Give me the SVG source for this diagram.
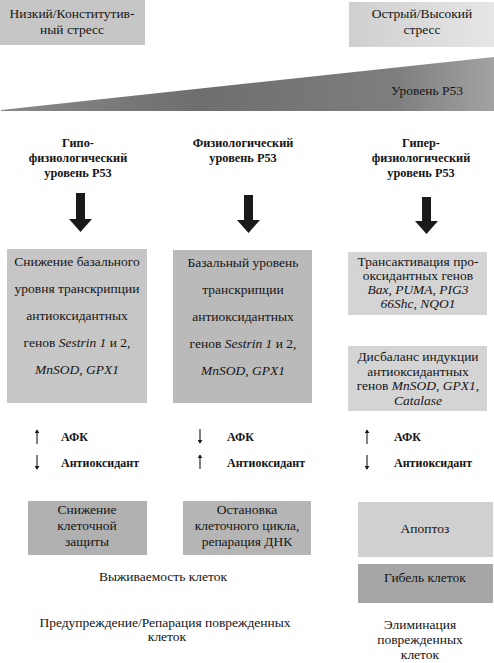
<svg xmlns="http://www.w3.org/2000/svg" width="494" height="663" viewBox="0 0 494 663">
<style>
  .t { font-size: 13.5px; text-anchor: middle; fill: #151515; }
  .h { font-size: 12.3px; font-weight: bold; text-anchor: middle; fill: #151515; }
  .b { font-size: 12px; font-weight: bold; fill: #151515; }
  .i { font-style: italic; }
  .big { fill: #1a1a1a; }
  .thin { stroke: #1a1a1a; stroke-width: 1.1; fill: none; marker-end: url(#ah); }
</style>
<defs>
  <marker id="ah" viewBox="0 0 6 8" refX="5" refY="4" markerWidth="4" markerHeight="5" orient="auto" markerUnits="userSpaceOnUse">
    <path d="M0,0 L6,4 L0,8 z" fill="#1a1a1a"/>
  </marker>
  <linearGradient id="wedge" x1="0" y1="0" x2="1" y2="0">
    <stop offset="0" stop-color="#8a8a8a"/>
    <stop offset="0.4" stop-color="#6e6e6e"/>
    <stop offset="0.8" stop-color="#7e7e7e"/>
    <stop offset="1" stop-color="#a2a2a2"/>
  </linearGradient>
  <linearGradient id="trg" x1="0" y1="0" x2="1" y2="0">
    <stop offset="0" stop-color="#cfcfcf"/>
    <stop offset="1" stop-color="#e6e6e6"/>
  </linearGradient>
</defs>
<rect width="494" height="663" fill="#ffffff"/>

<g id="stress-low">
  <rect x="0" y="0" width="145" height="45" fill="#c6c6c6"/>
  <text class="t" x="72" y="18" font-family="Liberation Serif">Низкий/Конститутив-</text>
  <text class="t" x="72" y="34" font-family="Liberation Serif">ный стресс</text>
</g>
<g id="stress-high">
  <rect x="349" y="2" width="145" height="45" fill="url(#trg)"/>
  <text class="t" x="422" y="18" font-family="Liberation Serif">Острый/Высокий</text>
  <text class="t" x="422" y="34" font-family="Liberation Serif">стресс</text>
</g>
<g id="p53-wedge">
  <polygon points="1,110 494,57 494,111 1,111" fill="url(#wedge)"/>
  <text class="t" x="427" y="95" font-family="Liberation Serif">Уровень P53</text>
</g>

<g id="head-hypo">
  <text class="h" x="78" y="147" font-family="Liberation Serif">Гипо-</text>
  <text class="h" x="78" y="162" font-family="Liberation Serif">физиологический</text>
  <text class="h" x="78" y="177" font-family="Liberation Serif">уровень P53</text>
</g>
<g id="head-phys">
  <text class="h" x="243" y="147" font-family="Liberation Serif">Физиологический</text>
  <text class="h" x="243" y="162" font-family="Liberation Serif">уровень P53</text>
</g>
<g id="head-hyper">
  <text class="h" x="421" y="147" font-family="Liberation Serif">Гипер-</text>
  <text class="h" x="421" y="162" font-family="Liberation Serif">физиологический</text>
  <text class="h" x="421" y="177" font-family="Liberation Serif">уровень P53</text>
</g>

<g id="box-hypo">
  <rect x="7" y="249" width="140" height="154" fill="#c6c6c6"/>
  <text class="t" x="77" y="266" font-family="Liberation Serif">Снижение базального</text>
  <text class="t" x="77" y="293" font-family="Liberation Serif">уровня транскрипции</text>
  <text class="t" x="77" y="320" font-family="Liberation Serif">антиоксидантных</text>
  <text class="t" x="77" y="347" font-family="Liberation Serif">генов <tspan class="i">Sestrin 1</tspan> и 2,</text>
  <text class="t i" x="77" y="374" font-family="Liberation Serif">MnSOD, GPX1</text>
</g>
<g id="box-phys">
  <rect x="173" y="250" width="139" height="153" fill="#bababa"/>
  <text class="t" x="243" y="267" font-family="Liberation Serif">Базальный уровень</text>
  <text class="t" x="243" y="294" font-family="Liberation Serif">транскрипции</text>
  <text class="t" x="243" y="321" font-family="Liberation Serif">антиоксидантных</text>
  <text class="t" x="243" y="348" font-family="Liberation Serif">генов <tspan class="i">Sestrin 1</tspan> и 2,</text>
  <text class="t i" x="243" y="375" font-family="Liberation Serif">MnSOD, GPX1</text>
</g>
<g id="box-hyper-1">
  <rect x="348" y="252" width="139" height="63" fill="#d4d4d4"/>
  <text class="t" x="418" y="266" font-family="Liberation Serif">Трансактивация про-</text>
  <text class="t" x="418" y="280" font-family="Liberation Serif">оксидантных генов</text>
  <text class="t i" x="418" y="294" font-family="Liberation Serif">Bax, PUMA, PIG3</text>
  <text class="t i" x="418" y="308" font-family="Liberation Serif">66Shc, NQO1</text>
</g>
<g id="box-hyper-2">
  <rect x="348" y="346" width="139" height="65" fill="#d4d4d4"/>
  <text class="t" x="418" y="361" font-family="Liberation Serif">Дисбаланс индукции</text>
  <text class="t" x="418" y="376" font-family="Liberation Serif">антиоксидантных</text>
  <text class="t" x="418" y="390" font-family="Liberation Serif">генов <tspan class="i">MnSOD, GPX1</tspan>,</text>
  <text class="t i" x="418" y="405" font-family="Liberation Serif">Catalase</text>
</g>

<g id="ros-hypo">
  <text class="b" x="61" y="441" font-family="Liberation Serif">АФК</text>
  <text class="b" x="61" y="467" font-family="Liberation Serif">Антиоксидант</text>
</g>
<g id="ros-phys">
  <text class="b" x="227" y="441" font-family="Liberation Serif">АФК</text>
  <text class="b" x="227" y="467" font-family="Liberation Serif">Антиоксидант</text>
</g>
<g id="ros-hyper">
  <text class="b" x="394" y="441" font-family="Liberation Serif">АФК</text>
  <text class="b" x="394" y="467" font-family="Liberation Serif">Антиоксидант</text>
</g>

<g id="out-hypo">
  <rect x="28" y="501" width="119" height="54" fill="#b0b0b0"/>
  <text class="t" x="87" y="514" font-family="Liberation Serif">Снижение</text>
  <text class="t" x="87" y="530" font-family="Liberation Serif">клеточной</text>
  <text class="t" x="87" y="546" font-family="Liberation Serif">защиты</text>
</g>
<g id="out-phys">
  <rect x="183" y="501" width="128" height="54" fill="#b5b5b5"/>
  <text class="t" x="247" y="514" font-family="Liberation Serif">Остановка</text>
  <text class="t" x="247" y="530" font-family="Liberation Serif">клеточного цикла,</text>
  <text class="t" x="247" y="546" font-family="Liberation Serif">репарация ДНК</text>
</g>
<g id="out-apoptosis">
  <rect x="358" y="502" width="135" height="55" fill="#d0d0d0"/>
  <text class="t" x="425" y="533" font-family="Liberation Serif">Апоптоз</text>
</g>
<g id="out-death">
  <rect x="358" y="564" width="135" height="39" fill="#a6a6a6"/>
  <text class="t" x="425" y="582" font-family="Liberation Serif">Гибель клеток</text>
</g>

<g id="label-survival">
  <text class="t" x="163" y="581" font-family="Liberation Serif">Выживаемость клеток</text>
</g>
<g id="label-prevention">
  <text class="t" x="165" y="627" font-family="Liberation Serif">Предупреждение/Репарация поврежденных</text>
  <text class="t" x="167" y="641" font-family="Liberation Serif">клеток</text>
</g>
<g id="label-elimination">
  <text class="t" x="420" y="629" font-family="Liberation Serif">Элиминация</text>
  <text class="t" x="420" y="644" font-family="Liberation Serif">поврежденных</text>
  <text class="t" x="420" y="659" font-family="Liberation Serif">клеток</text>
</g>

<g id="connectors">
  <polygon class="big" points="76,193 85,193 85,219 92,219 80.5,232 69,219 76,219"/>
  <polygon class="big" points="244,195 253,195 253,220 260,220 248.5,233 237,220 244,220"/>
  <polygon class="big" points="422,197 431,197 431,221 438,221 426.5,234 415,221 422,221"/>
  <line class="thin" x1="37" y1="444" x2="37" y2="430"/>
  <line class="thin" x1="37" y1="455" x2="37" y2="469"/>
  <line class="thin" x1="200" y1="429" x2="200" y2="443"/>
  <line class="thin" x1="200" y1="469" x2="200" y2="455"/>
  <line class="thin" x1="367" y1="444" x2="367" y2="430"/>
  <line class="thin" x1="367" y1="455" x2="367" y2="469"/>
</g>
</svg>
